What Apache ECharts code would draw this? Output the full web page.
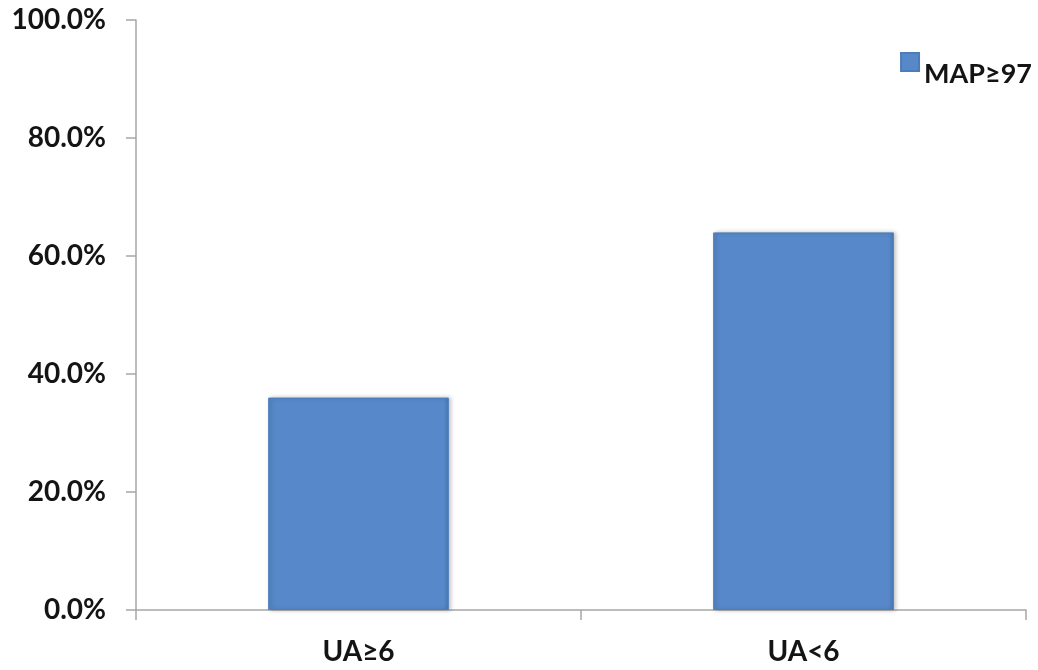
<!DOCTYPE html>
<html>
<head>
<meta charset="utf-8">
<script src="https://cdn.jsdelivr.net/npm/echarts@6/dist/echarts.min.js"></script>
<style>
  html, body { margin: 0; padding: 0; background: #ffffff; }
  #chart { width: 1038px; height: 670px; }
</style>
</head>
<body>
<div id="chart"></div>
<script>
// Share of patients with MAP ≥ 97 by uric acid group (percent)
const categories = ['UA≥6', 'UA<6'];
const seriesName = 'MAP≥97';
const values = [36.0, 64.0];
const yTicks = { min: 0, max: 100, interval: 20 };

const fontFamily = 'Lato, "Open Sans", "DejaVu Sans", sans-serif';
const axisGray = '#A6A6A6';
const textColor = '#141414';

const chart = echarts.init(document.getElementById('chart'), null, { renderer: 'canvas' });

chart.setOption({
  backgroundColor: '#ffffff',
  animation: false,
  grid: { left: 136, right: 12, top: 20, bottom: 60, containLabel: false },
  legend: {
    data: [seriesName],
    right: 1,
    top: 47,
    icon: 'rect',
    itemWidth: 18,
    itemHeight: 18,
    itemGap: 8,
    formatter: name => '{t|' + name + '}',
    textStyle: {
      rich: {
        t: {
          fontFamily: fontFamily,
          fontWeight: 'bold',
          fontSize: 27,
          color: textColor,
          padding: [24, 0, 0, 0]
        }
      }
    }
  },
  xAxis: {
    type: 'category',
    data: categories,
    axisLine: { lineStyle: { color: axisGray, width: 1.5 } },
    axisTick: { show: true, length: 10, lineStyle: { color: axisGray, width: 1.5 } },
    axisLabel: {
      margin: 28,
      fontFamily: fontFamily,
      fontWeight: 'bold',
      fontSize: 28,
      color: textColor
    },
    splitLine: { show: false }
  },
  yAxis: {
    type: 'value',
    min: yTicks.min,
    max: yTicks.max,
    interval: yTicks.interval,
    axisLine: { show: true, lineStyle: { color: axisGray, width: 1.5 } },
    axisTick: { show: true, length: 10, lineStyle: { color: axisGray, width: 1.5 } },
    axisLabel: {
      margin: 30,
      fontFamily: fontFamily,
      fontWeight: 'bold',
      fontSize: 28,
      color: textColor,
      formatter: v => v.toFixed(1) + '%'
    },
    splitLine: { show: false }
  },
  series: [{
    name: seriesName,
    type: 'bar',
    data: values,
    barWidth: '40.6%',
    itemStyle: {
      color: {
        type: 'linear', x: 0, y: 0, x2: 1, y2: 0,
        colorStops: [
          { offset: 0, color: '#5284C4' },
          { offset: 0.03, color: '#5789CA' },
          { offset: 0.97, color: '#5789CA' },
          { offset: 1, color: '#4A78B4' }
        ]
      },
      borderColor: '#4C7DBB',
      borderWidth: 1,
      shadowColor: 'rgba(0,0,0,0.25)',
      shadowBlur: 4,
      shadowOffsetX: 2,
      shadowOffsetY: 0
    }
  }]
});
</script>
</body>
</html>
